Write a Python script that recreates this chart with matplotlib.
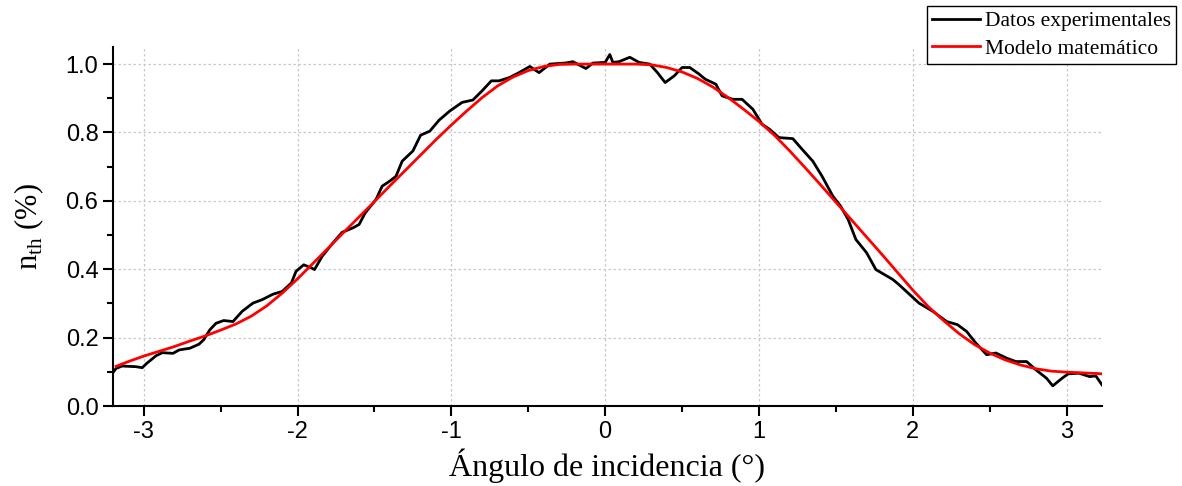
import matplotlib
matplotlib.use('Agg')
import matplotlib.pyplot as plt
from matplotlib.ticker import MultipleLocator

x_exp = [-3.20, -3.18, -3.14, -3.10, -3.05, -3.01, -2.98, -2.92, -2.88, -2.81,
         -2.77, -2.70, -2.64, -2.61, -2.57, -2.53, -2.48, -2.42, -2.36, -2.29,
         -2.23, -2.16, -2.10, -2.04, -2.01, -1.96, -1.91, -1.89, -1.84, -1.77,
         -1.71, -1.64, -1.60, -1.56, -1.49, -1.45, -1.40, -1.36, -1.32, -1.25,
         -1.20, -1.14, -1.08, -1.01, -0.93, -0.86, -0.80, -0.74, -0.69, -0.62,
         -0.56, -0.49, -0.43, -0.36, -0.26, -0.21, -0.125, -0.08, 0.0, 0.03,
         0.05, 0.09, 0.16, 0.22, 0.29, 0.34, 0.39, 0.45, 0.50, 0.55,
         0.61, 0.65, 0.72, 0.76, 0.83, 0.89, 0.96, 1.02, 1.07, 1.13,
         1.22, 1.28, 1.35, 1.41, 1.48, 1.53, 1.58, 1.63, 1.70, 1.76,
         1.87, 1.91, 1.98, 2.04, 2.13, 2.22, 2.29, 2.35, 2.41, 2.48,
         2.54, 2.61, 2.67, 2.74, 2.80, 2.87, 2.91, 2.97, 3.01, 3.08,
         3.15, 3.19, 3.23]
y_exp = [0.098, 0.110, 0.117, 0.116, 0.115, 0.112, 0.125, 0.147, 0.156, 0.154,
         0.164, 0.169, 0.181, 0.194, 0.223, 0.242, 0.250, 0.247, 0.277, 0.301,
         0.311, 0.327, 0.335, 0.360, 0.394, 0.413, 0.404, 0.399, 0.438, 0.477,
         0.508, 0.521, 0.531, 0.565, 0.604, 0.643, 0.658, 0.672, 0.716, 0.746,
         0.792, 0.804, 0.836, 0.863, 0.888, 0.895, 0.922, 0.951, 0.951, 0.961,
         0.975, 0.993, 0.975, 1.000, 1.003, 1.007, 0.987, 1.003, 1.005, 1.028,
         1.005, 1.007, 1.020, 1.005, 1.000, 0.975, 0.946, 0.966, 0.990, 0.990,
         0.971, 0.956, 0.941, 0.907, 0.897, 0.897, 0.868, 0.824, 0.809, 0.785,
         0.782, 0.751, 0.716, 0.672, 0.614, 0.585, 0.545, 0.487, 0.448, 0.399,
         0.370, 0.355, 0.326, 0.301, 0.277, 0.247, 0.238, 0.218, 0.184, 0.150,
         0.155, 0.140, 0.130, 0.130, 0.106, 0.081, 0.059, 0.081, 0.094, 0.096,
         0.086, 0.088, 0.062]

# modelo matematico
x_mod = [-3.18, -3.1, -3.0, -2.9, -2.8, -2.7, -2.6, -2.5, -2.4, -2.3, -2.2, -2.1,
         -2.0, -1.9, -1.8, -1.7, -1.6, -1.5, -1.4, -1.3, -1.2, -1.1,
         -1.0, -0.9, -0.8, -0.7, -0.6, -0.5, -0.4, -0.3, -0.2, -0.1,
         0.0, 0.1, 0.2, 0.3, 0.4, 0.5, 0.6, 0.7, 0.8, 0.9,
         1.0, 1.1, 1.2, 1.3, 1.4, 1.5, 1.6, 1.7, 1.8, 1.9,
         2.0, 2.1, 2.2, 2.3, 2.4, 2.5, 2.6, 2.7, 2.8, 2.9,
         3.0, 3.1, 3.2, 3.23]
y_mod = [0.116, 0.130, 0.146, 0.160, 0.174, 0.190, 0.205, 0.222, 0.240, 0.263, 0.293, 0.330,
         0.372, 0.417, 0.462, 0.508, 0.553, 0.598, 0.644, 0.689, 0.734, 0.779,
         0.822, 0.863, 0.902, 0.936, 0.962, 0.981, 0.993, 0.999, 1.0, 1.0,
         1.0, 1.0, 1.0, 0.998, 0.990, 0.977, 0.958, 0.933, 0.902, 0.868,
         0.832, 0.792, 0.746, 0.697, 0.647, 0.596, 0.545, 0.494, 0.443, 0.391,
         0.339, 0.291, 0.250, 0.212, 0.180, 0.155, 0.135, 0.120, 0.109, 0.102,
         0.099, 0.097, 0.095, 0.094]

xticks = [-3, -2, -1, 0, 1, 2, 3]
yticks = [0.0, 0.2, 0.4, 0.6, 0.8, 1.0]

fig = plt.figure(figsize=(11.82, 4.86), dpi=100)
ax = fig.add_axes([0.0956, 0.1646, 0.8367, 0.7387])

l1, = ax.plot(x_exp, y_exp, color='black', lw=2, label='Datos experimentales')
l2, = ax.plot(x_mod, y_mod, color='red', lw=2, label='Modelo matemático')

ax.set_xlim(-3.20, 3.23)
ax.set_ylim(0, 1.05)
ax.set_xticks(xticks)
ax.set_yticks(yticks)
ax.set_xticklabels([str(t) for t in xticks])
ax.set_yticklabels(['%.1f' % t for t in yticks])
ax.xaxis.set_minor_locator(MultipleLocator(0.5))
ax.yaxis.set_minor_locator(MultipleLocator(0.1))
ax.grid(True, which='major', color='#c8c8c8', linestyle=(0, (2, 2)), lw=0.9)
ax.set_axisbelow(True)

for s in ['top', 'right']:
    ax.spines[s].set_visible(False)
for s in ['left', 'bottom']:
    ax.spines[s].set_linewidth(1.5)

ax.tick_params(which='major', direction='out', length=7, width=1.5, labelsize=17)
ax.tick_params(which='minor', direction='out', length=4, width=1.5)
for lab in ax.get_xticklabels() + ax.get_yticklabels():
    lab.set_family('Liberation Sans')

ax.set_xlabel('Ángulo de incidencia (°)', family='Liberation Serif', fontsize=23, labelpad=4)
ax.set_ylabel(r'n$_{\mathregular{th}}$ (%)', family='Liberation Serif', fontsize=22, labelpad=14)

leg = fig.legend(handles=[l1, l2], loc='upper right', bbox_to_anchor=(0.995, 0.988),
                 prop={'family': 'Liberation Serif', 'size': 15.5}, fancybox=False,
                 edgecolor='black', framealpha=1, borderpad=0.25, handlelength=2.25,
                 handletextpad=0.2, labelspacing=0.35, borderaxespad=0)
leg.get_frame().set_linewidth(1.0)

fig.savefig('out.png', dpi=100)
